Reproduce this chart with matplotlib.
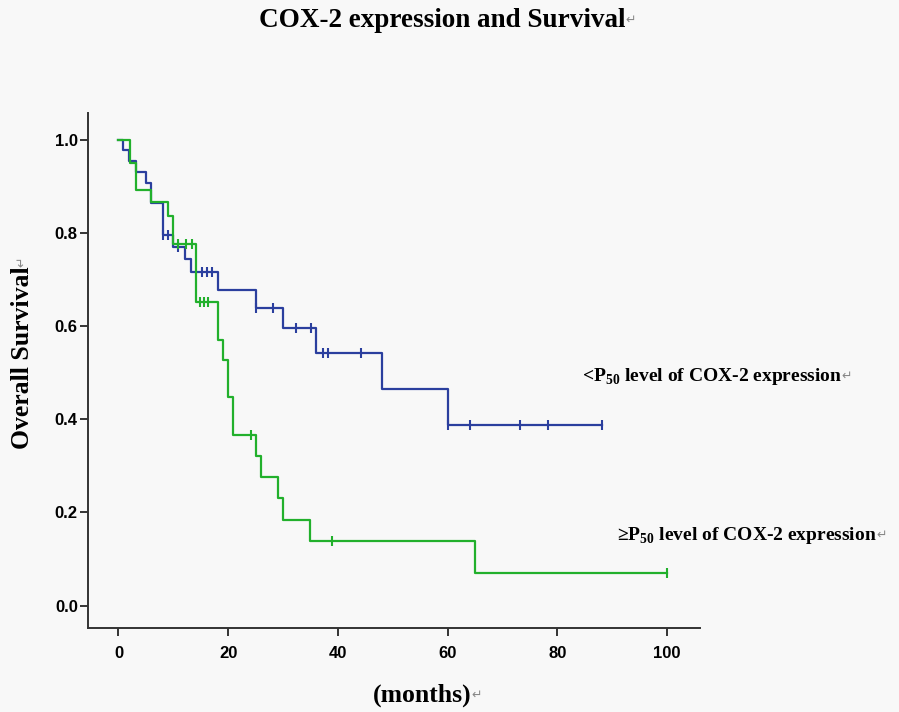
"""
COX-2 expression and overall survival, Kaplan-Meier curves
"""

import numpy as np
import matplotlib
matplotlib.use("Agg")
import matplotlib.pyplot as plt

plt.rcParams['mathtext.fontset'] = 'custom'
plt.rcParams['mathtext.rm'] = 'Liberation Serif:bold'
plt.rcParams['mathtext.bf'] = 'Liberation Serif:bold'

bg = "#f8f8f8"
col_lo = "#2b3f9e"
col_hi = "#22b02c"
lw = 1.6
serif = ['Liberation Serif', 'DejaVu Serif', 'DejaVu Sans']

# < P50 group (blue): step times and survival after each step
lo_t = [0, 0.9, 2.0, 3.2, 5.0, 6.0, 8.2, 10.0, 12.1, 13.2, 18.2, 25.0, 30.0, 36.0, 48.1, 60.0, 88.1]
lo_s = [1.0, 0.977, 0.953, 0.930, 0.907, 0.864, 0.795, 0.770, 0.744, 0.716, 0.677, 0.638, 0.595,
        0.542, 0.465, 0.388, 0.388]
lo_cens = [8.2, 9.1, 10.9, 15.2, 16.1, 17.0, 25.0, 28.2, 32.3, 35.1, 37.2, 38.1, 44.2,
           60.0, 64.1, 73.2, 78.2, 88.1]

# >= P50 group (green)
hi_t = [0, 2.1, 3.2, 5.9, 9.1, 10.0, 14.1, 18.2, 19.0, 19.9, 20.9, 25.0, 25.9, 29.1, 30.0,
        35.0, 65.0, 100]
hi_s = [1.0, 0.949, 0.891, 0.866, 0.836, 0.776, 0.652, 0.569, 0.528, 0.448, 0.367, 0.321,
        0.276, 0.230, 0.184, 0.138, 0.069, 0.069]
hi_cens = [10.9, 12.4, 13.4, 14.9, 15.6, 16.4, 24.1, 39.0, 100]

xticks = [0, 20, 40, 60, 80, 100]
yticks = [0.0, 0.2, 0.4, 0.6, 0.8, 1.0]


def km(ax, t, s, cens, col):
    t = np.array(t)
    s = np.array(s)
    ax.step(t, s, where='post', color=col, linewidth=lw, clip_on=False)
    c = np.array(cens)
    cy = s[np.searchsorted(t, c, side='right') - 1]
    ax.plot(c, cy, linestyle='none', marker='|', markersize=7, markeredgewidth=1.5,
            color=col, clip_on=False)


fig = plt.figure(figsize=(8.99, 7.12), dpi=100, facecolor=bg)
ax = fig.add_axes([0.0982, 0.118, 0.6805, 0.7233], facecolor=bg)

km(ax, lo_t, lo_s, lo_cens, col_lo)
km(ax, hi_t, hi_s, hi_cens, col_hi)

ax.set_xlim(-5.5, 106)
ax.set_ylim(-0.048, 1.057)
ax.set_xticks(xticks)
ax.set_yticks(yticks)
ax.set_xticklabels([str(v) for v in xticks])
ax.set_yticklabels(['%.1f' % v for v in yticks])
for lab in ax.get_xticklabels() + ax.get_yticklabels():
    lab.set_fontfamily('Liberation Sans')
    lab.set_fontweight('bold')
    lab.set_fontsize(12)
ax.tick_params(direction='out', length=6, width=1.4, color='#333333')
ax.tick_params(axis='x', pad=7)
ax.tick_params(axis='y', pad=1.5)
for side in ['top', 'right']:
    ax.spines[side].set_visible(False)
for side in ['left', 'bottom']:
    ax.spines[side].set_linewidth(1.4)
    ax.spines[side].set_color('#333333')

ret = dict(color='#888888', fontsize=9, family=['DejaVu Sans'], va='center', ha='left')

t1 = fig.text(0.492, 0.971, "COX-2 expression and Survival", ha='center', va='center',
              family=serif, fontweight='bold', fontsize=19.5)
ax.annotate('\u21b5', xy=(1, 0.5), xycoords=t1, **ret)

t2 = fig.text(0.0245, 0.497, "Overall Survival", ha='center', va='center', rotation=90,
              family=serif, fontweight='bold', fontsize=18.5)
ax.annotate('\u21b5', xy=(0.5, 1), xycoords=t2, rotation=90,
            color='#888888', fontsize=9, family=['DejaVu Sans'], va='bottom', ha='center')

t3 = fig.text(0.47, 0.024, "(months)", ha='center', va='center',
              family=serif, fontweight='bold', fontsize=18.5)
ax.annotate('\u21b5', xy=(1, 0.5), xycoords=t3, **ret)

t4 = ax.text(84.4, 0.492, "<P$_{50}$ level of COX-2 expression", ha='left', va='center',
             family=serif, fontweight='bold', fontsize=14)
ax.annotate('\u21b5', xy=(1, 0.5), xycoords=t4, **ret)

t5 = ax.text(90.9, 0.151, "\u2265P$_{50}$ level of COX-2 expression", ha='left', va='center',
             family=serif, fontweight='bold', fontsize=14)
ax.annotate('\u21b5', xy=(1, 0.5), xycoords=t5, **ret)

fig.savefig("out.png", dpi=100, facecolor=bg)
